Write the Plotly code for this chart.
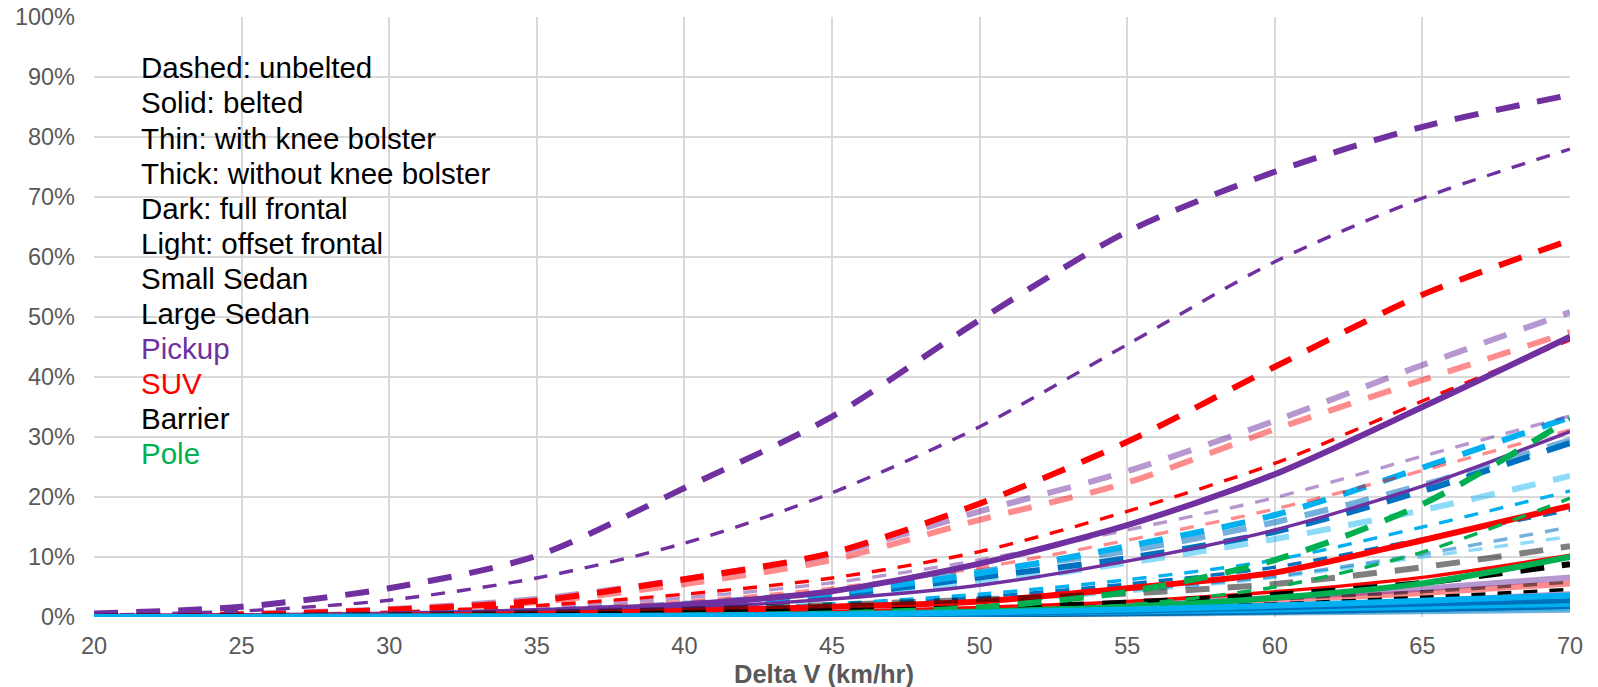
import plotly.graph_objects as go

# Delta V (km/hr) sample points shared by every curve
delta_v = [20, 25, 30, 35, 40, 45, 50, 55, 60, 65, 70]

# Injury risk (%) by vehicle / impact type, belt use, knee bolster and crash mode
pickup_unbelted_nokb_full = [0.6, 1.7, 4.8, 10.2, 21.5, 33.4, 49.5, 64.2, 74.2, 81.7, 87.0]
pickup_unbelted_kb_full = [0.3, 1.0, 2.8, 6.5, 12.3, 20.7, 31.7, 45.4, 59.2, 69.8, 78.0]
pickup_unbelted_nokb_offset = [0.15, 0.5, 1.3, 3.0, 6.3, 10.5, 17.6, 24.3, 32.7, 42.0, 50.8]
pickup_unbelted_kb_offset = [0.08, 0.25, 0.7, 1.6, 3.2, 5.7, 9.5, 14.5, 19.9, 26.8, 33.5]
pickup_belted_nokb_full = [0.05, 0.15, 0.4, 1.0, 2.1, 4.3, 8.9, 15.3, 23.8, 35.0, 46.7]
pickup_belted_kb_full = [0.03, 0.1, 0.3, 0.7, 1.5, 3.0, 5.3, 9.3, 14.5, 21.8, 30.9]
pickup_belted_nokb_offset = [0.01, 0.03, 0.08, 0.2, 0.4, 0.75, 1.3, 2.1, 3.2, 4.7, 6.6]
pickup_belted_kb_offset = [0.0, 0.02, 0.05, 0.12, 0.25, 0.45, 0.8, 1.3, 2.0, 2.9, 4.0]

suv_unbelted_nokb_full = [0.1, 0.4, 1.2, 2.7, 6.3, 10.7, 18.9, 29.2, 41.7, 53.7, 62.8]
suv_unbelted_kb_full = [0.1, 0.3, 0.8, 1.9, 3.8, 6.5, 10.9, 17.6, 25.6, 36.0, 46.2]
suv_unbelted_nokb_offset = [0.1, 0.4, 1.1, 2.5, 5.5, 9.5, 16.2, 22.4, 31.3, 39.5, 47.5]
suv_unbelted_kb_offset = [0.05, 0.2, 0.5, 1.2, 2.6, 4.8, 8.2, 12.8, 18.0, 24.4, 31.2]
suv_belted_nokb_full = [0.02, 0.07, 0.2, 0.5, 1.0, 1.7, 2.6, 4.8, 7.4, 12.8, 18.5]
suv_belted_kb_full = [0.01, 0.03, 0.1, 0.25, 0.5, 0.9, 1.6, 2.6, 4.2, 6.6, 10.3]
suv_belted_nokb_offset = [0.01, 0.03, 0.07, 0.17, 0.35, 0.65, 1.1, 1.8, 2.8, 4.0, 5.6]
suv_belted_kb_offset = [0.0, 0.01, 0.04, 0.09, 0.18, 0.34, 0.6, 1.0, 1.5, 2.2, 3.0]

small_unbelted_nokb_full = [0.05, 0.15, 0.4, 0.9, 2.0, 4.0, 7.3, 11.8, 17.0, 24.9, 33.3]
small_unbelted_kb_full = [0.02, 0.07, 0.2, 0.5, 1.1, 2.2, 3.8, 6.2, 9.5, 15.0, 21.0]
small_unbelted_nokb_offset = [0.03, 0.1, 0.3, 0.7, 1.6, 3.2, 5.6, 9.0, 13.0, 17.8, 23.5]
small_unbelted_kb_offset = [0.01, 0.04, 0.12, 0.3, 0.7, 1.4, 2.5, 4.2, 6.6, 10.0, 13.4]
small_belted_nokb_full = [0.0, 0.02, 0.05, 0.11, 0.22, 0.42, 0.75, 1.25, 1.9, 2.7, 3.6]
small_belted_kb_full = [0.0, 0.01, 0.03, 0.06, 0.12, 0.23, 0.41, 0.7, 1.05, 1.5, 2.0]
small_belted_nokb_offset = [0.0, 0.01, 0.04, 0.08, 0.16, 0.3, 0.54, 0.9, 1.35, 1.95, 2.6]
small_belted_kb_offset = [0.0, 0.01, 0.02, 0.04, 0.08, 0.15, 0.27, 0.45, 0.68, 0.97, 1.3]

large_unbelted_nokb_full = [0.04, 0.12, 0.35, 0.8, 1.8, 3.5, 6.6, 9.8, 14.2, 21.0, 29.0]
large_unbelted_kb_full = [0.02, 0.06, 0.17, 0.4, 0.9, 1.9, 3.3, 5.5, 8.3, 13.0, 17.8]
large_unbelted_nokb_offset = [0.05, 0.15, 0.4, 1.0, 2.2, 4.2, 7.6, 11.0, 15.8, 22.0, 29.5]
large_unbelted_kb_offset = [0.01, 0.04, 0.12, 0.3, 0.7, 1.5, 2.7, 4.5, 6.8, 10.5, 15.0]
large_belted_nokb_full = [0.0, 0.01, 0.04, 0.09, 0.18, 0.35, 0.62, 1.05, 1.6, 2.25, 3.0]
large_belted_kb_full = [0.0, 0.01, 0.02, 0.05, 0.1, 0.18, 0.33, 0.55, 0.85, 1.2, 1.6]
large_belted_nokb_offset = [0.0, 0.01, 0.03, 0.07, 0.14, 0.27, 0.48, 0.8, 1.2, 1.7, 2.3]
large_belted_kb_offset = [0.0, 0.0, 0.01, 0.03, 0.06, 0.11, 0.2, 0.34, 0.52, 0.75, 1.0]

barrier_unbelted_nokb_full = [0.02, 0.05, 0.12, 0.3, 0.6, 1.0, 1.5, 2.4, 3.7, 5.7, 8.8]
barrier_unbelted_kb_full = [0.01, 0.03, 0.08, 0.17, 0.35, 0.6, 1.0, 1.5, 2.2, 3.3, 4.6]
barrier_unbelted_nokb_offset = [0.05, 0.15, 0.35, 0.7, 1.2, 2.0, 2.9, 3.9, 5.5, 8.3, 11.8]
barrier_unbelted_kb_offset = [0.02, 0.06, 0.15, 0.3, 0.55, 0.9, 1.4, 2.1, 3.0, 4.2, 5.8]
barrier_belted_nokb_full = [0.0, 0.01, 0.03, 0.07, 0.14, 0.27, 0.48, 0.8, 1.25, 1.9, 2.8]
barrier_belted_kb_full = [0.0, 0.01, 0.02, 0.04, 0.08, 0.15, 0.27, 0.45, 0.72, 1.1, 1.6]
barrier_belted_nokb_offset = [0.0, 0.01, 0.02, 0.05, 0.11, 0.21, 0.38, 0.64, 1.0, 1.55, 2.3]
barrier_belted_kb_offset = [0.0, 0.01, 0.02, 0.04, 0.09, 0.17, 0.31, 0.52, 0.82, 1.27, 1.9]

pole_unbelted_nokb = [0.0, 0.01, 0.04, 0.1, 0.25, 0.6, 1.6, 4.2, 9.5, 18.8, 33.0]
pole_unbelted_kb = [0.0, 0.01, 0.03, 0.08, 0.2, 0.5, 1.0, 2.0, 5.0, 10.8, 19.8]
pole_belted_nokb = [0.0, 0.01, 0.03, 0.08, 0.2, 0.45, 0.9, 1.7, 3.2, 5.6, 10.0]
pole_belted_kb = [0.0, 0.0, 0.01, 0.03, 0.08, 0.18, 0.37, 0.7, 1.3, 2.2, 3.6]

# Text key drawn inside the plot
key_lines = ["Dashed: unbelted", "Solid: belted", "Thin: with knee bolster",
             "Thick: without knee bolster", "Dark: full frontal", "Light: offset frontal",
             "Small Sedan", "Large Sedan", "Pickup", "SUV", "Barrier", "Pole"]
x_title = "Delta V (km/hr)"

# Colours: dark = full frontal, translucent = offset frontal
PURPLE, PURPLE_L = "#7030A0", "rgba(112,48,160,0.5)"
RED, RED_L = "#FF0000", "rgba(255,0,0,0.45)"
CYAN, CYAN_L = "#00B0F0", "rgba(0,176,240,0.45)"
BLUE, BLUE_L = "#0070C0", "rgba(0,112,192,0.55)"
BLACK, GREY = "#000000", "rgba(0,0,0,0.5)"
GREEN = "#00B050"
key_colors = ["black"] * 8 + [PURPLE, RED, "black", GREEN]

THICK, THIN = 6, 3.4
DASH_THICK, DASH_THIN = "24px,18px", "14px,12px"

# (values, colour, width, dash) in drawing order
series = [
    (barrier_belted_nokb_full, BLACK, THICK, "solid"),
    (barrier_belted_kb_full, BLACK, THIN, "solid"),
    (barrier_belted_nokb_offset, GREY, THICK, "solid"),
    (barrier_belted_kb_offset, GREY, THIN, "solid"),
    (pole_belted_kb, GREEN, THIN, "solid"),
    (suv_belted_kb_offset, RED_L, THIN, "solid"),
    (pickup_belted_kb_offset, PURPLE_L, THIN, "solid"),
    (suv_belted_nokb_offset, RED_L, THICK, "solid"),
    (pickup_belted_nokb_offset, PURPLE_L, THICK, "solid"),
    (barrier_unbelted_kb_full, BLACK, THIN, DASH_THIN),
    (barrier_unbelted_kb_offset, GREY, THIN, DASH_THIN),
    (small_unbelted_kb_offset, CYAN_L, THIN, DASH_THIN),
    (large_unbelted_kb_offset, BLUE_L, THIN, DASH_THIN),
    (large_unbelted_kb_full, BLUE, THIN, DASH_THIN),
    (small_unbelted_kb_full, CYAN, THIN, DASH_THIN),
    (small_unbelted_nokb_offset, CYAN_L, THICK, DASH_THICK),
    (large_unbelted_nokb_full, BLUE, THICK, DASH_THICK),
    (large_unbelted_nokb_offset, BLUE_L, THICK, DASH_THICK),
    (small_unbelted_nokb_full, CYAN, THICK, DASH_THICK),
    (suv_unbelted_kb_offset, RED_L, THIN, DASH_THIN),
    (pickup_unbelted_kb_offset, PURPLE_L, THIN, DASH_THIN),
    (suv_unbelted_nokb_offset, RED_L, THICK, DASH_THICK),
    (pickup_unbelted_nokb_offset, PURPLE_L, THICK, DASH_THICK),
    (suv_unbelted_kb_full, RED, THIN, DASH_THIN),
    (suv_unbelted_nokb_full, RED, THICK, DASH_THICK),
    (pickup_unbelted_kb_full, PURPLE, THIN, DASH_THIN),
    (pickup_unbelted_nokb_full, PURPLE, THICK, DASH_THICK),
    (pickup_belted_kb_full, PURPLE, THIN, "solid"),
    (pickup_belted_nokb_full, PURPLE, THICK, "solid"),
    (suv_belted_kb_full, RED, THIN, "solid"),
    (suv_belted_nokb_full, RED, THICK, "solid"),
    (barrier_unbelted_nokb_offset, GREY, THICK, DASH_THICK),
    (barrier_unbelted_nokb_full, BLACK, THICK, DASH_THICK),
    (pole_unbelted_kb, GREEN, THIN, DASH_THIN),
    (pole_belted_nokb, GREEN, THICK, "solid"),
    (pole_unbelted_nokb, GREEN, THICK, DASH_THICK),
    (large_belted_kb_offset, BLUE_L, THIN, "solid"),
    (small_belted_kb_offset, CYAN_L, THIN, "solid"),
    (large_belted_nokb_offset, BLUE_L, THICK, "solid"),
    (small_belted_nokb_offset, CYAN_L, THICK, "solid"),
    (large_belted_kb_full, BLUE, THIN, "solid"),
    (small_belted_kb_full, CYAN, THIN, "solid"),
    (large_belted_nokb_full, BLUE, THICK, "solid"),
    (small_belted_nokb_full, CYAN, THICK, "solid"),
]

fig = go.Figure()
for values, color, width, dash in series:
    fig.add_trace(go.Scatter(
        x=delta_v, y=values, mode="lines",
        line=dict(color=color, width=width, dash=dash, shape="spline", smoothing=0.8),
        hoverinfo="skip", showlegend=False,
    ))

FONT = "Liberation Sans, Arial, sans-serif"

for i, (text, color) in enumerate(zip(key_lines, key_colors)):
    fig.add_annotation(
        x=0.0305, y=(617 - (68 + 35.0 * i)) / 600, xref="paper", yref="paper",
        text=text, showarrow=False, xanchor="left", yanchor="middle",
        font=dict(family=FONT, size=29.5, color=color),
    )

# Axis title placed below the tick labels
fig.add_annotation(
    x=0.4946, y=-0.095, xref="paper", yref="paper", text=f"<b>{x_title}</b>",
    showarrow=False, xanchor="center", yanchor="middle",
    font=dict(family=FONT, size=25.5, color="#595959"),
)

GRID = "#D9D9D9"
TICK_FONT = dict(family=FONT, size=23.5, color="#595959")

fig.update_layout(
    width=1598, height=687,
    margin=dict(l=94, r=28, t=17, b=70),
    paper_bgcolor="white", plot_bgcolor="white",
    xaxis=dict(
        range=[20, 70], dtick=5, tick0=20, showgrid=True, gridcolor=GRID, gridwidth=1.5,
        zeroline=False, showline=False, ticks="", tickfont=TICK_FONT, ticklabelstandoff=12,
        automargin=False,
    ),
    yaxis=dict(
        range=[0, 100], dtick=10, showgrid=True, gridcolor=GRID, gridwidth=1.5,
        zeroline=False, showline=False, ticks="", ticksuffix="%", tickfont=TICK_FONT,
        ticklabelstandoff=18, automargin=False,
    ),
)

fig.write_html("out.html")
